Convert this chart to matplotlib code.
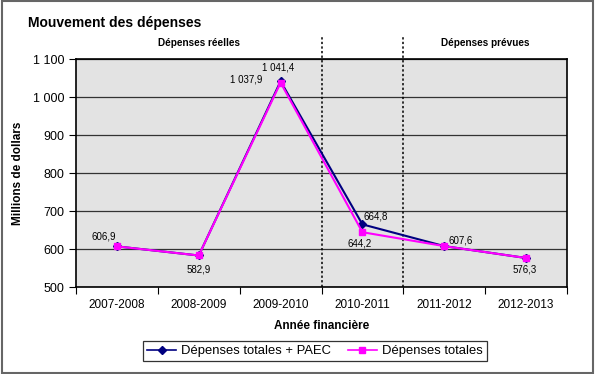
import matplotlib
matplotlib.use('Agg')
import matplotlib.pyplot as plt
from matplotlib.ticker import FuncFormatter, FixedLocator
from matplotlib.patches import Rectangle

plt.rcParams['font.family'] = ['Liberation Sans', 'DejaVu Sans']

years = ['2007-2008', '2008-2009', '2009-2010', '2010-2011', '2011-2012', '2012-2013']
paec = [606.9, 582.9, 1041.4, 664.8, 607.6, 576.3]
totales = [606.9, 582.9, 1037.9, 644.2, 607.6, 576.3]

def fr(v):
    s = f'{v:,.1f}'.replace(',', ' ').replace('.', ',')
    return s

fig = plt.figure(figsize=(5.95, 3.74), dpi=100)
ax = fig.add_axes([76/595, 1-287/374, (567-76)/595, (287-59)/374])
ax.set_facecolor('#e3e3e3')

x = list(range(len(years)))
ax.plot(x, paec, color='#000080', marker='D', markersize=4, lw=1.5,
        label='Dépenses totales + PAEC', zorder=3)
ax.plot(x, totales, color='#ff00ff', marker='s', markersize=5, lw=1.5,
        label='Dépenses totales', zorder=4)

ax.set_xlim(-0.5, 5.5)
ax.set_ylim(500, 1100)
ax.set_yticks(range(500, 1101, 100))
ax.yaxis.set_major_formatter(FuncFormatter(lambda v, p: f'{int(v):,}'.replace(',', ' ')))
ax.grid(axis='y', color='#333333', lw=0.9)
ax.set_axisbelow(True)

ax.xaxis.set_major_locator(FixedLocator([i - 0.5 for i in range(len(years) + 1)]))
ax.xaxis.set_major_formatter(FuncFormatter(lambda v, p: ''))
ax.set_xticks(x, minor=True)
ax.set_xticklabels(years, minor=True)
ax.tick_params(axis='x', which='minor', length=0, pad=9, labelsize=8.5)
ax.tick_params(axis='x', which='major', length=5, direction='out')
ax.tick_params(axis='y', length=5, direction='out', labelsize=9)
for s in ax.spines.values():
    s.set_linewidth(1.2)

for xv in (2.5, 3.5):
    ax.axvline(xv, ymin=0, ymax=1.096, color='black', ls=(0, (1.5, 1.5)), lw=1.1,
               clip_on=False, zorder=2)

ax.text(1, 1.07, 'Dépenses réelles', transform=ax.get_xaxis_transform(),
        ha='center', va='center', fontsize=7.2, fontweight='bold')
ax.text(4.5, 1.07, 'Dépenses prévues', transform=ax.get_xaxis_transform(),
        ha='center', va='center', fontsize=7.2, fontweight='bold')

# étiquettes des valeurs : (décalage, alignement)
labels_paec = [None, None, ((-2, 10), 'center'), ((1, 6), 'left'), ((3, 4), 'left'), None]
labels_tot = [((-1, 7), 'right'), ((0, -10), 'center'), ((-13, 2), 'right'),
              ((-2, -8), 'center'), None, ((-1, -8), 'center')]
for serie, labels in ((paec, labels_paec), (totales, labels_tot)):
    for i, lab in enumerate(labels):
        if lab:
            off, ha = lab
            ax.annotate(fr(serie[i]), (x[i], serie[i]), xytext=off, textcoords='offset points',
                        ha=ha, va='center', fontsize=7)

ax.set_ylabel('Millions de dollars', fontsize=8.5, fontweight='bold', labelpad=6)
ax.set_xlabel('Année financière', fontsize=8.5, fontweight='bold', labelpad=6)

fig.text(28/595, 1-23/374, 'Mouvement des dépenses', fontsize=10, fontweight='bold',
         va='center', ha='left')

leg = fig.legend(loc='center', bbox_to_anchor=(315/595, 1-351/374), ncol=2,
                 fontsize=9.4, frameon=True, fancybox=False, edgecolor='black',
                 borderpad=0.3, handlelength=2.2, columnspacing=1.3, handletextpad=0.4)
leg.get_frame().set_linewidth(0.9)
for h in leg.legend_handles:
    h.set_linewidth(1.2)
    h.set_markersize(4)

fig.patches.append(Rectangle((0.003, 0.004), 0.994, 0.992, transform=fig.transFigure,
                             fill=False, edgecolor='#666666', lw=1.5))

fig.savefig('out.png', dpi=100)
